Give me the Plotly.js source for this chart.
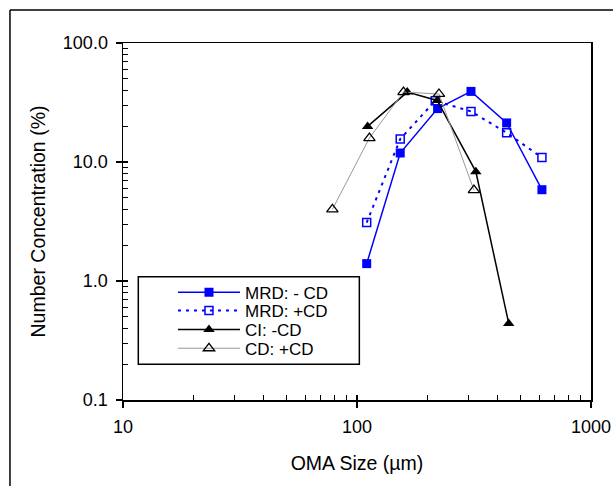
<!DOCTYPE html>
<html>
<head>
<meta charset="utf-8">
<script src="https://cdn.plot.ly/plotly-3.0.1.min.js"></script>
<style>html,body{margin:0;padding:0;background:#fff;}#chart{width:613px;height:486px;}</style>
</head>
<body>
<div id="chart"></div>
<script>
// OMA size (µm) and number concentration (%)
const mrdMinusX = [110, 153, 221, 307, 436, 617];
const mrdMinusY = [1.4, 11.9, 28.1, 39.2, 21.3, 5.85];
const mrdPlusX = [110, 153, 216, 307, 436, 617];
const mrdPlusY = [3.1, 15.6, 32.7, 26.6, 17.6, 10.9];
const ciMinusX = [111, 164, 220, 322, 445];
const ciMinusY = [19.9, 38.7, 32.9, 8.3, 0.44];
const cdPlusX = [78.5, 113, 158, 224, 316];
const cdPlusY = [4.0, 15.9, 38.7, 37.3, 5.8];
const seriesNames = ['MRD: - CD', 'MRD: +CD', 'CI: -CD', 'CD: +CD'];
const xTickVals = [10, 100, 1000];
const xTickText = ['10', '100', '1000'];
const yTickVals = [0.1, 1, 10, 100];
const yTickText = ['0.1', '1.0', '10.0', '100.0'];

const FONT = 'Arial, "Liberation Sans", sans-serif';
const minorX = [], minorY = [];
[10, 100].forEach(d => { for (let k = 2; k <= 9; k++) minorX.push(k * d); });
[0.1, 1, 10].forEach(d => { for (let k = 2; k <= 9; k++) minorY.push(+(k * d).toPrecision(3)); });

const traces = [
  {x: mrdMinusX, y: mrdMinusY, name: seriesNames[0], legend: 'legend', mode: 'lines+markers',
   line: {color: '#0000FF', width: 1.5},
   marker: {symbol: 'square', size: 9, color: '#0000FF'}},
  {x: mrdPlusX, y: mrdPlusY, name: seriesNames[1], legend: 'legend2', mode: 'lines+markers',
   line: {color: '#0000FF', width: 2, dash: '3px,5px'},
   marker: {symbol: 'square-open', size: 8, color: '#0000FF', line: {width: 1.5}}},
  {x: ciMinusX, y: ciMinusY, name: seriesNames[2], legend: 'legend3', mode: 'lines+markers',
   line: {color: '#000000', width: 1.5},
   marker: {symbol: 'triangle-up', size: 10, color: '#000000'}},
  {x: cdPlusX, y: cdPlusY, name: seriesNames[3], legend: 'legend4', mode: 'lines+markers',
   line: {color: '#999999', width: 1},
   marker: {symbol: 'triangle-up-open', size: 10, color: '#000000', line: {width: 1.3}}}
];

const axisCommon = {
  type: 'log', showgrid: false, zeroline: false,
  showline: true, linecolor: '#000', linewidth: 1.5, mirror: true,
  ticks: 'outside', ticklen: 6, tickwidth: 1.3, tickcolor: '#000',
  tickfont: {family: FONT, size: 18, color: '#000'}
};

function legendAt(yPaper) {
  return {x: 0.1068, y: yPaper, xanchor: 'left', yanchor: 'middle', itemwidth: 62,
          bgcolor: 'rgba(0,0,0,0)', borderwidth: 0,
          font: {family: FONT, size: 17, color: '#000'}};
}

const layout = {
  width: 613, height: 486,
  margin: {l: 123, r: 22, t: 43, b: 86},
  paper_bgcolor: '#fff', plot_bgcolor: '#fff',
  font: {family: FONT, size: 16, color: '#000'},
  showlegend: true,
  legend: legendAt(0.3006),
  legend2: legendAt(0.2493),
  legend3: legendAt(0.1961),
  legend4: legendAt(0.1437),
  xaxis: Object.assign({}, axisCommon, {
    range: [1, 3], tickvals: xTickVals, ticktext: xTickText, ticklabelstandoff: 4,
    minor: {tickvals: minorX, ticks: 'inside', ticklen: 5, tickcolor: '#000', tickwidth: 1},
    title: {text: 'OMA Size (µm)', font: {family: FONT, size: 19.5, color: '#000'}, standoff: 20}
  }),
  yaxis: Object.assign({}, axisCommon, {
    range: [-1, 2], tickvals: yTickVals, ticktext: yTickText, ticklabelstandoff: 4,
    minor: {tickvals: minorY, ticks: 'inside', ticklen: 5, tickcolor: '#000', tickwidth: 1},
    title: {text: 'Number Concentration (%)', font: {family: FONT, size: 19.5, color: '#000'}, standoff: 12}
  }),
  xaxis2: {type: 'log', overlaying: 'x', matches: 'x', range: [1, 3], showgrid: false, zeroline: false,
           tickvals: xTickVals, ticks: 'inside', ticklen: 5, tickwidth: 1.3, tickcolor: '#000',
           showticklabels: false, side: 'bottom', showline: false},
  yaxis2: {type: 'log', overlaying: 'y', matches: 'y', range: [-1, 2], showgrid: false, zeroline: false,
           tickvals: yTickVals, ticks: 'inside', ticklen: 5, tickwidth: 1.3, tickcolor: '#000',
           showticklabels: false, side: 'left', showline: false},
  shapes: [
    {type: 'rect', xref: 'paper', yref: 'paper', x0: 0.0327, x1: 0.505, y0: 0.1, y1: 0.3454,
     line: {color: '#000', width: 1.5}, fillcolor: 'rgba(0,0,0,0)'},
    {type: 'line', xref: 'paper', yref: 'paper', x0: -0.2415, x1: 1.2, y0: 1.0924, y1: 1.0924,
     line: {color: '#000', width: 1.5}},
    {type: 'line', xref: 'paper', yref: 'paper', x0: -0.2415, x1: -0.2415, y0: 1.0924, y1: -0.3,
     line: {color: '#000', width: 1.5}}
  ]
};

// invisible helper trace to activate the overlay axes (crossing major ticks)
traces.push({x: [10], y: [1], xaxis: 'x2', yaxis: 'y2', mode: 'markers', showlegend: false,
             hoverinfo: 'skip', marker: {opacity: 0}});

Plotly.newPlot('chart', traces, layout, {displayModeBar: false, staticPlot: true});
</script>
</body>
</html>
